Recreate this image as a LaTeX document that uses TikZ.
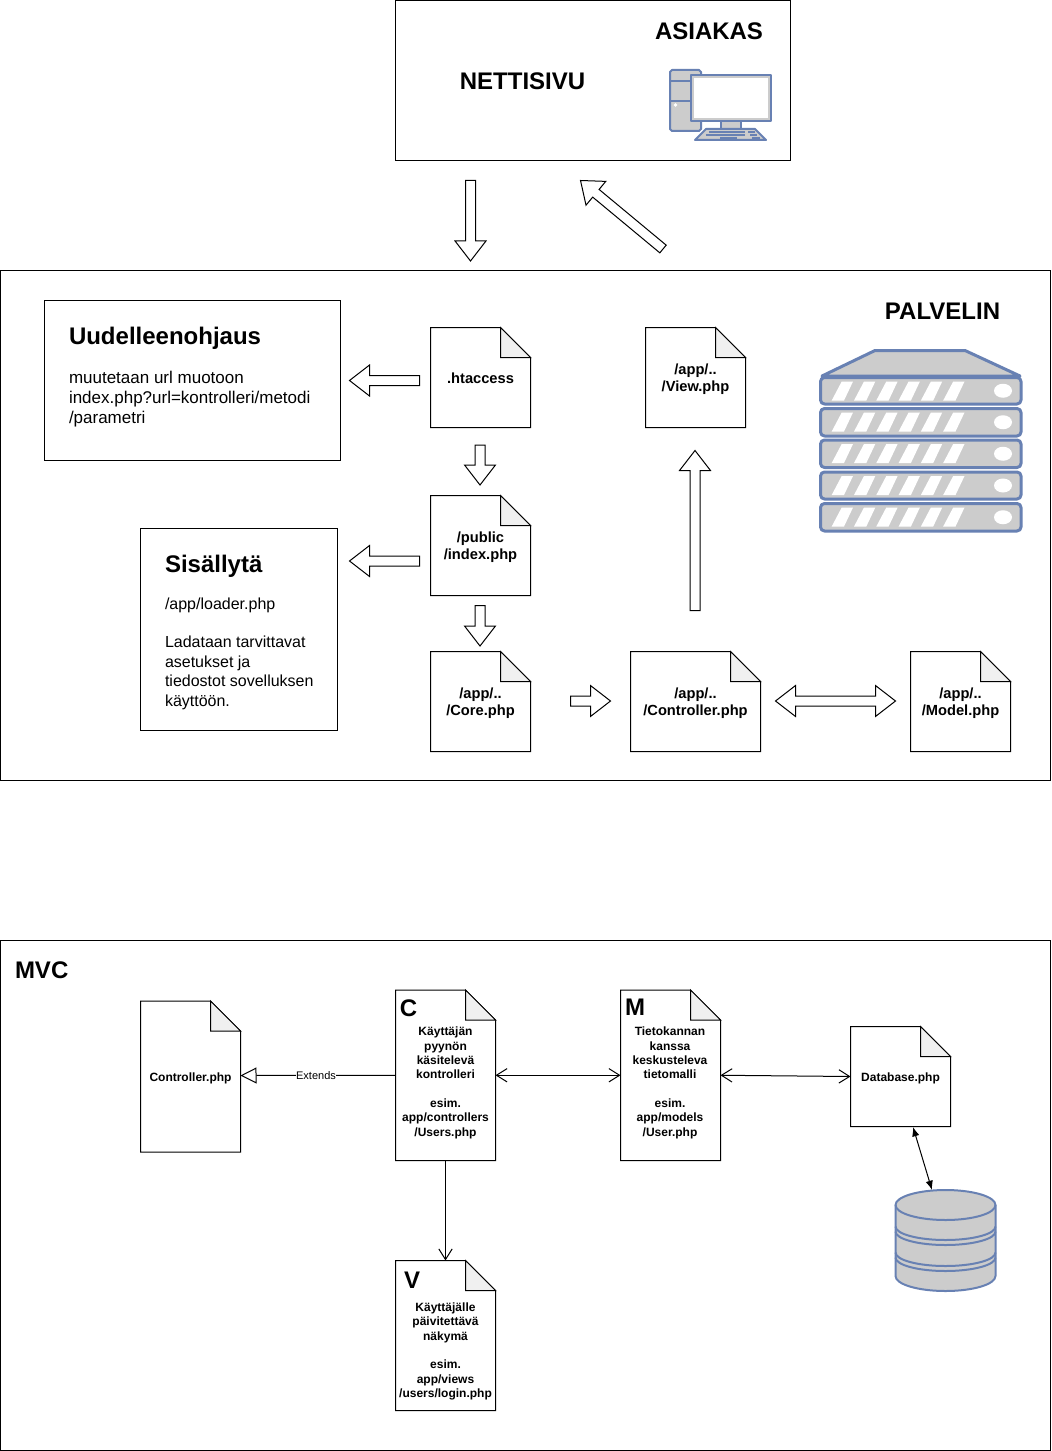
\documentclass[tikz,border=0pt]{standalone}
\usepackage{fontspec}
\setmainfont{Liberation Sans}
\usetikzlibrary{calc,arrows.meta}
\definecolor{iconblue}{HTML}{6881B3}
\definecolor{icongray}{HTML}{CCCCCC}
\definecolor{foldgray}{HTML}{F0F0F0}
\tikzset{
  x=0.75pt,y=-0.75pt,
  frame/.style={draw=black,line width=0.75pt,fill=white},
  blk/.style={draw=black,line width=0.75pt,fill=white,line join=miter},
  anchorbox/.style={inner sep=0pt,outer sep=0pt,draw=none},
  lab/.style={inner sep=0pt,outer sep=0pt,align=center,text=black},
  big/.style={lab,font=\fontsize{18}{21.6}\selectfont\bfseries},
  filelab/.style={lab,font=\fontsize{11}{12.75}\selectfont\bfseries},
  smalllab/.style={lab,font=\fontsize{9}{10.75}\selectfont\bfseries},
  bodylab/.style={inner sep=0pt,outer sep=0pt,align=left,anchor=north west,font=\fontsize{12}{14.7}\selectfont},
  conn/.style={draw=black,line width=0.75pt},
  ico/.style={draw=iconblue,line width=1.5pt,fill=icongray,line join=round},
  keyl/.style={draw=iconblue,line width=1.5pt},
}
\newcommand{\docnode}[5]{%
  \draw[frame] (#2,#3) -- ({#2+#4-30},#3) -- ({#2+#4},{#3+30}) -- ({#2+#4},{#3+#5}) -- (#2,{#3+#5}) -- cycle;
  \draw[frame,fill=foldgray] ({#2+#4-30},#3) -- ({#2+#4-30},{#3+30}) -- ({#2+#4},{#3+30}) -- cycle;
  \node[anchorbox,minimum width={#4*0.75pt},minimum height={#5*0.75pt}] (#1) at ({#2+#4/2},{#3+#5/2}) {};
}
\newcommand{\blockarrow}[3]{%
  \coordinate (#1s) at #2; \coordinate (#1e) at #3;
  \coordinate (#1h) at ($(#1e)!15pt!(#1s)$);
  \draw[blk] ($(#1s)!3.75pt!90:(#1e)$) -- ($(#1h)!3.75pt!90:(#1e)$) -- ($(#1h)!11.6pt!90:(#1e)$) -- (#1e)
    -- ($(#1h)!11.6pt!-90:(#1e)$) -- ($(#1h)!3.75pt!-90:(#1e)$) -- ($(#1s)!3.75pt!-90:(#1e)$) -- cycle;
}
\newcommand{\doublearrow}[3]{%
  \coordinate (#1s) at #2; \coordinate (#1e) at #3;
  \coordinate (#1h) at ($(#1e)!15pt!(#1s)$);
  \coordinate (#1k) at ($(#1s)!15pt!(#1e)$);
  \draw[blk] (#1s) -- ($(#1k)!11.6pt!90:(#1e)$) -- ($(#1k)!3.75pt!90:(#1e)$) -- ($(#1h)!3.75pt!90:(#1e)$) -- ($(#1h)!11.6pt!90:(#1e)$) -- (#1e)
    -- ($(#1h)!11.6pt!-90:(#1e)$) -- ($(#1h)!3.75pt!-90:(#1e)$) -- ($(#1k)!3.75pt!-90:(#1e)$) -- ($(#1k)!11.6pt!-90:(#1e)$) -- cycle;
}
\begin{document}
\begin{tikzpicture}
\useasboundingbox (0,0) rectangle (1051,1451);
\fill[white] (0,0) rectangle (1051,1451);
% frames
\draw[frame] (395.5,0.5) rectangle (790.5,160.5);
\draw[frame] (0.5,270.5) rectangle (1050.5,780.5);
\draw[frame] (44.5,300.5) rectangle (340.5,460.5);
\draw[frame] (140.5,528.5) rectangle (337.5,730.5);
\draw[frame] (0.5,940.5) rectangle (1050.5,1450.5);
% top texts
\node[big] (asiakas) at (709,31) {ASIAKAS};
\node[big] (nettisivu) at (522.5,81) {NETTISIVU};
\node[big] (palvelin) at (942.5,311) {PALVELIN};
\node[big,anchor=west] (mvc) at (15,970) {MVC};
% computer icon
\draw[ico] (672,70) -- (699,70) -- (701,72) -- (701,129) -- (699,131) -- (672,131) -- (670,129) -- (670,72) -- cycle;
\draw[keyl] (670,81) -- (701,81) (670,101) -- (701,101);
\fill[white] (675.5,105) circle (1.8);
\draw[ico] (721,121) rectangle (741,129);
\draw[ico] (691,75) rectangle (771,121);
\fill[white] (694,78) rectangle (768,118);
\draw[ico] (706,129) -- (755,129) -- (766,140) -- (695,140) -- cycle;
\draw[draw=iconblue,line width=1pt] (709,132) -- (745,132) (748,132) -- (755,132) (706,135) -- (745,135) (750,135) -- (757,135) (720,138) -- (737,138) (752,138) -- (760,138);
% server icon
\draw[ico,line width=2.25pt] (875,350.5) -- (965,350.5) -- (1020,376) -- (822,376) -- cycle;
\foreach \t/\b in {377.5/404, 408.5/436, 440/467.5, 472/499, 503.5/531}{
  \draw[ico,line width=2.25pt,rounded corners=3] (820.5,\t) rectangle (1021,\b);
  \foreach \i in {0,...,5}{
    \fill[white] ({831.7+22.3*\i},{\t+23}) -- ({844+22.3*\i},{\t+23}) -- ({853+22.3*\i},{\t+4}) -- ({841.7+22.3*\i},{\t+4}) -- cycle;
  }
  \fill[white] (1003,{(\t+\b)/2}) ellipse (9 and 7);
}
% upper documents
\docnode{htaccess}{430.5}{327.5}{100}{100}
\docnode{index}{430.5}{495.5}{100}{100}
\docnode{core}{430.5}{651.5}{100}{100}
\docnode{view}{645.5}{327.5}{100}{100}
\docnode{controller}{630.5}{651.5}{130}{100}
\docnode{model}{910.5}{651.5}{100}{100}
\node[filelab] (thtaccess) at (480.5,378) {.htaccess};
\node[filelab] (tindex) at (480.5,547.5) {/public\\/index.php};
\node[filelab] (tcore) at (480.5,703.5) {/app/..\\/Core.php};
\node[filelab] (tview) at (695.5,379.5) {/app/..\\/View.php};
\node[filelab] (tcontroller) at (695.5,703.5) {/app/..\\/Controller.php};
\node[filelab] (tmodel) at (960.5,703.5) {/app/..\\/Model.php};
% info boxes
\node[big,anchor=west] (uudelleen) at (69,338) {Uudelleenohjaus};
\node[bodylab,font=\fontsize{12.75}{14.9}\selectfont] (uudelleentxt) at (69,371.5) {muutetaan url muotoon\\index.php?url=kontrolleri/metodi\\/parametri};
\node[big,anchor=west] (sisallyta) at (165,566) {Sisällytä};
\node[bodylab] (sisallytatxt) at (165,598) {/app/loader.php\\[13.8pt]Ladataan tarvittavat\\asetukset ja\\tiedostot sovelluksen\\käyttöön.};
% block arrows
\blockarrow{a1}{(470.5,180.5)}{(470.5,261)}
\blockarrow{a2}{(663,249)}{(580.5,180.5)}
\blockarrow{a3}{(419.5,380.5)}{(349.5,380.5)}
\blockarrow{a4}{(480,445)}{(480,485)}
\blockarrow{a5}{(419.5,561)}{(349.5,561)}
\blockarrow{a6}{(480,605.5)}{(480,646)}
\blockarrow{a7}{(570.5,701)}{(610.5,701)}
\doublearrow{a8}{(775.5,701)}{(895.5,701)}
\blockarrow{a9}{(695,610.5)}{(695,450.5)}
% MVC documents
\docnode{ctrlbase}{140.5}{1001}{100}{151}
\docnode{cdoc}{395.5}{990}{100}{170.5}
\docnode{mdoc}{620.5}{990}{100}{170.5}
\docnode{dbdoc}{850.5}{1026.5}{100}{100}
\docnode{vdoc}{395.5}{1260.5}{100}{150}
\node[smalllab] (tctrl) at (190.5,1078) {Controller.php};
\node[smalllab] (tdb) at (900.5,1078) {Database.php};
\node[big] (lc) at (408.5,1008) {C};
\node[big] (lm) at (635,1007) {M};
\node[big] (lv) at (412,1280) {V};
\node[smalllab] (tc) at (445.5,1083) {Käyttäjän\\pyynön\\käsitelevä\\kontrolleri\\[10.75pt]esim.\\app/controllers\\/Users.php};
\node[smalllab] (tm) at (670,1083) {Tietokannan\\kanssa\\keskusteleva\\tietomalli\\[10.75pt]esim.\\app/models\\/User.php};
\node[smalllab] (tv) at (445.5,1351.5) {Käyttäjälle\\päivitettävä\\näkymä\\[10.75pt]esim.\\app/views\\/users/login.php};
% database cylinder
\node[anchorbox,minimum width=75.75pt,minimum height=75.75pt] (dbcyl) at (945.5,1240.5) {};
\draw[draw=iconblue,line width=1.5pt,fill=icongray] (895.5,1205) arc[start angle=180,end angle=360,x radius=50,y radius=15] -- (995.5,1276) arc[start angle=0,end angle=180,x radius=50,y radius=15] -- cycle;
\draw[draw=iconblue,line width=1.5pt] (895.5,1205) arc[start angle=180,end angle=0,x radius=50,y radius=15];
\foreach \yy in {1226.5,1231.5,1252.5,1257.5}{
  \draw[draw=iconblue,line width=1.5pt] (895.5,\yy) arc[start angle=180,end angle=0,x radius=50,y radius=13.5];
}
% connectors
\coordinate (ddbA) at (913,1127);
\coordinate (ddbB) at (932,1190);
\coordinate (ctrlend) at (240.5,1075.5);
\draw[conn,-{Triangle[open,length=12pt,width=12pt]}] (cdoc.west) -- (ctrlend);
\node[fill=white,inner sep=0pt,font=\fontsize{8.25}{10}\selectfont] (ext) at (316,1076) {Extends};
\draw[conn,{Straight Barb[length=8pt,width=10pt]}-{Straight Barb[length=8pt,width=10pt]}] (cdoc.east) -- (mdoc.west);
\draw[conn,{Straight Barb[length=8pt,width=10pt]}-{Straight Barb[length=8pt,width=10pt]}] (mdoc.east) -- (dbdoc.west);
\draw[conn,-{Straight Barb[length=8pt,width=10pt]}] (cdoc.south) -- (vdoc.north);
\draw[conn,{Latex[length=7pt,width=5.5pt]}-{Latex[length=7pt,width=5.5pt]}] (ddbA) -- (ddbB);
\end{tikzpicture}
\end{document}
